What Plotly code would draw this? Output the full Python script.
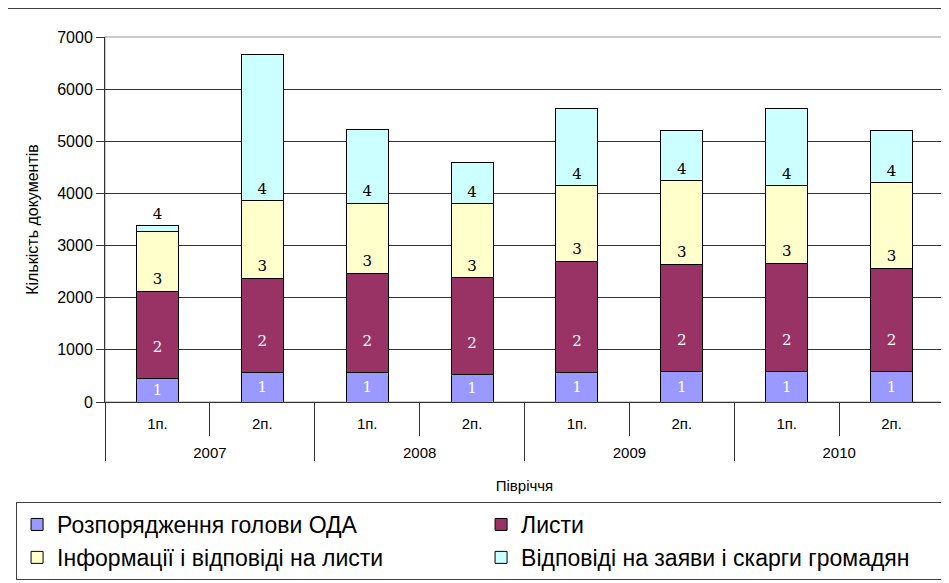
import plotly.graph_objects as go

years = ["2007", "2007", "2008", "2008", "2009", "2009", "2010", "2010"]
halves = ["1п.", "2п.", "1п.", "2п.", "1п.", "2п.", "1п.", "2п."]

series_names = [
    "Розпорядження голови ОДА",
    "Листи",
    "Інформації і відповіді на листи",
    "Відповіді на заяви і скарги громадян",
]
s1 = [460, 575, 557, 532, 557, 576, 576, 576]
s2 = [1667, 1795, 1909, 1850, 2140, 2063, 2088, 1992]
s3 = [1152, 1490, 1345, 1421, 1446, 1606, 1485, 1639]
s4 = [100, 2795, 1422, 788, 1479, 961, 1487, 999]
labels = ["1", "2<br> ", "3", "4"]

colors = ["#9999FF", "#993366", "#FFFFCC", "#CCFFFF"]
text_colors = ["white", "white", "black", "black"]
anchors = ["middle", "start", "start", "start"]

# inner tick labels get a thin trailing line so the year row sits lower
halves_disp = [h + "<br><span style='font-size:6px'> </span>" for h in halves]

fig = go.Figure()
for i, vals in enumerate([s1, s2, s3, s4]):
    if i == 3:
        tpos = ["outside"] + ["inside"] * (len(vals) - 1)
    else:
        tpos = "inside"
    fig.add_trace(go.Bar(
        x=[years, halves_disp], y=vals, name=series_names[i],
        marker=dict(color=colors[i], line=dict(color="#000000", width=1)),
        text=[labels[i]] * len(vals), textposition=tpos,
        insidetextanchor=anchors[i], textangle=0,
        insidetextfont=dict(family="DejaVu Serif", size=15, color=text_colors[i]),
        outsidetextfont=dict(family="DejaVu Serif", size=15, color=text_colors[i]),
        constraintext="none", cliponaxis=False,
        hoverinfo="skip",
    ))

fig.update_layout(
    barmode="stack",
    bargap=0.6,
    width=941, height=575,
    margin=dict(l=97, r=5, t=29, b=181, autoexpand=False),
    paper_bgcolor="white", plot_bgcolor="white",
    font=dict(family="Liberation Sans, Arial, sans-serif", color="#000000"),
    showlegend=True,
    legend=dict(
        orientation="h", x=-0.106, xanchor="left", y=-0.274, yanchor="top",
        bordercolor="#404040", borderwidth=1, bgcolor="white",
        font=dict(size=23, family="Liberation Sans, Arial, sans-serif"),
        entrywidth=419, entrywidthmode="pixels",
        traceorder="normal",
    ),
    yaxis=dict(
        range=[0, 7000], dtick=1000, showgrid=True, gridcolor="#333333", gridwidth=1,
        showline=True, linecolor="#333333", linewidth=1,
        ticks="outside", ticklen=8, tickcolor="#333333",
        tickfont=dict(size=16),
        title=dict(text="Кількість документів", font=dict(size=16), standoff=14),
        zeroline=False, automargin=False,
    ),
    xaxis=dict(
        type="multicategory",
        showline=True, linecolor="#333333", linewidth=1,
        ticks="outside", tickson="boundaries", ticklen=33, tickcolor="#333333",
        showdividers=True, dividercolor="#333333", dividerwidth=1,
        tickfont=dict(size=15), ticklabelstandoff=8,
        title=dict(text="Півріччя", font=dict(size=15), standoff=20),
        showgrid=False, automargin=False,
    ),
    shapes=[
        dict(type="rect", xref="paper", yref="paper", x0=0, x1=1, y0=0, y1=1,
             line=dict(color="#999999", width=1), layer="below"),
        dict(type="rect", xref="paper", yref="paper", x0=-0.1168, x1=1.02, y0=-0.52, y1=1.0795,
             line=dict(color="#000000", width=1.5), layer="below"),
    ],
)

fig.write_html("out.html")
